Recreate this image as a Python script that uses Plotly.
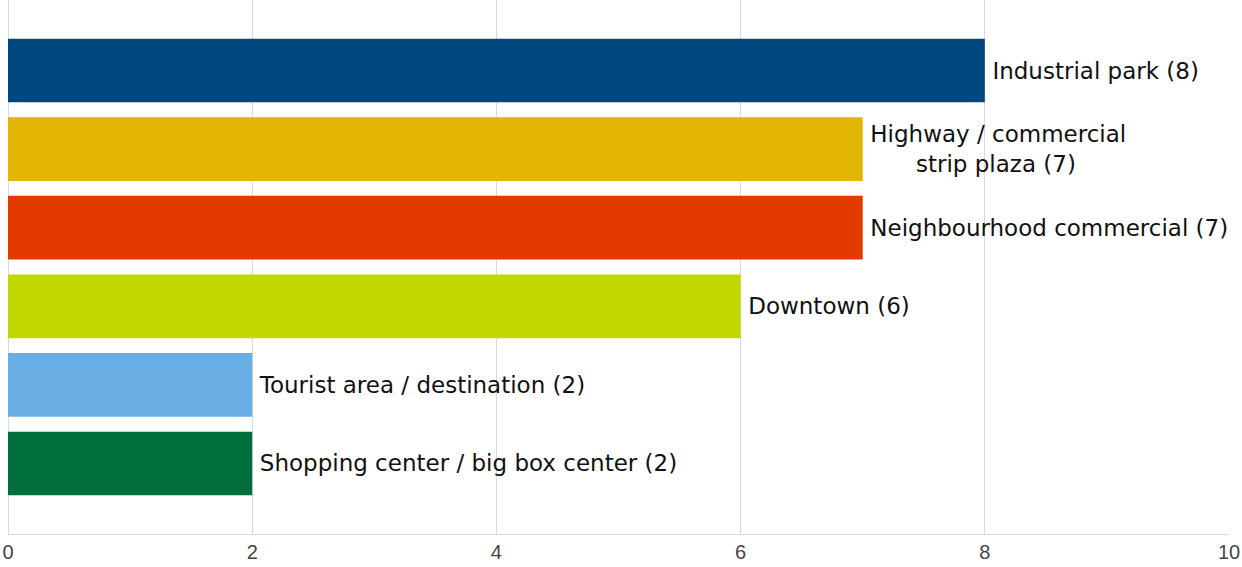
import plotly.graph_objects as go

categories = [
    "Industrial park",
    "Highway / commercial<br>strip plaza",
    "Neighbourhood commercial",
    "Downtown",
    "Tourist area / destination",
    "Shopping center / big box center",
]
values = [8, 7, 7, 6, 2, 2]
colors = ["#00467F", "#E3B505", "#E33A00", "#C0D800", "#6AAEE6", "#006E3C"]
tick_vals = [0, 2, 4, 6, 8, 10]

labels = [f"\u2009{c} ({v})" for c, v in zip(categories, values)]

fig = go.Figure(
    go.Bar(
        x=values,
        y=list(range(len(categories))),
        orientation="h",
        marker=dict(color=colors, line=dict(width=0)),
        text=labels,
        textposition="outside",
        textfont=dict(family="DejaVu Sans, Noto Sans, sans-serif", size=23, color="#111111"),
        cliponaxis=False,
        constraintext="none",
        hoverinfo="skip",
    )
)

fig.update_layout(
    width=1242,
    height=567,
    margin=dict(l=8, r=13, t=0, b=33, autoexpand=False),
    paper_bgcolor="white",
    plot_bgcolor="white",
    bargap=0.19,
    showlegend=False,
    xaxis=dict(
        range=[0, 10],
        tickvals=tick_vals,
        automargin=False,
        showgrid=True,
        gridcolor="#d9d9d9",
        gridwidth=1,
        zeroline=True,
        zerolinecolor="#d9d9d9",
        zerolinewidth=1,
        showline=True,
        linecolor="#d9d9d9",
        linewidth=1,
        ticks="",
        tickfont=dict(family="Liberation Sans, Arial, sans-serif", size=20, color="#444444"),
    ),
    yaxis=dict(
        range=[len(categories) - 1 + 0.897, -0.897],
        automargin=False,
        showticklabels=False,
        showgrid=False,
        zeroline=False,
        showline=False,
        ticks="",
    ),
)

fig.write_html(
    "out.html",
    config={"displayModeBar": False, "staticPlot": True},
    post_script="document.body.style.margin='0';document.body.style.overflow='hidden';",
)
